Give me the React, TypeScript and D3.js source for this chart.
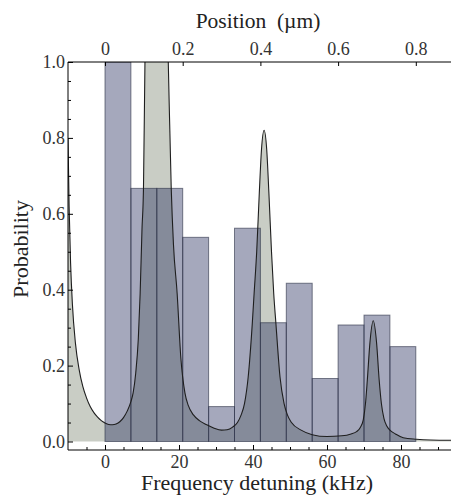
import React, { Component } from 'react'
import * as d3 from 'd3'

// histogram, 7 kHz bins starting at 0
const binStarts = [0, 7, 14, 21, 28, 35, 42, 49, 56, 63, 70, 77]
const binWidth = 7
const binProb = [1.0, 0.667, 0.667, 0.538, 0.092, 0.562, 0.313, 0.417, 0.166, 0.307, 0.333, 0.25]

// spectrum curve (kHz, probability)
const specKHz = [
  -10, -9.7, -9.3, -8.8, -8.0, -7.0, -6.0, -5.0, -4.0, -3.0, -2.0, -1.0, 0, 1, 2, 3, 4, 5, 6, 7,
  7.6, 8.3, 9.0, 9.5, 10.0, 10.4, 10.8, 11.5, 12.5, 14.0, 15.5, 16.5, 17.1, 17.9, 18.5, 19.5,
  20.5, 21.6, 22.5, 23.9, 25.5, 27.5, 29.5, 31.5, 33.0, 34.5, 35.8, 36.8, 37.7, 38.7, 39.8,
  40.3, 41.0, 41.7, 42.3, 43.0, 43.7, 44.3, 45.0, 45.6, 46.2, 47.3, 48.4, 49.3, 50.4, 53.0,
  56.0, 60.0, 64.0, 66.5, 68.0, 69.0, 69.8, 70.4, 70.9, 71.6, 72.5, 73.4, 74.1, 74.7, 75.4,
  76.2, 77.0, 78.5, 80.6, 84.2, 88.0, 95.0,
]
const specProb = [
  0.8, 0.62, 0.47, 0.36, 0.26, 0.19, 0.145, 0.115, 0.092, 0.076, 0.064, 0.055, 0.049, 0.045, 0.044, 0.046, 0.052, 0.063, 0.08, 0.105,
  0.128, 0.18, 0.27, 0.39, 0.56, 0.667, 1.0, 1.25, 1.4, 1.45, 1.4, 1.25, 1.0, 0.667, 0.52, 0.39,
  0.22, 0.128, 0.095, 0.07, 0.055, 0.044, 0.035, 0.03, 0.031, 0.038, 0.05, 0.07, 0.1, 0.17, 0.31,
  0.39, 0.5, 0.654, 0.77, 0.82, 0.77, 0.654, 0.5, 0.39, 0.31, 0.17, 0.1, 0.07, 0.05, 0.03,
  0.018, 0.013, 0.015, 0.02, 0.026, 0.037, 0.057, 0.1, 0.162, 0.26, 0.318, 0.26, 0.162, 0.1, 0.06,
  0.04, 0.03, 0.02, 0.01, 0.006, 0.004, 0.003,
]

const freqTicks = [0, 20, 40, 60, 80]
const freqMinor = [-5, 5, 10, 15, 25, 30, 35, 45, 50, 55, 65, 70, 75, 85, 90]
const posTicks = [0, 0.2, 0.4, 0.6, 0.8]
const posLabels = ['0', '0.2', '0.4', '0.6', '0.8']
const probTicks = [0, 0.2, 0.4, 0.6, 0.8, 1.0]
const probMinor = [0.05, 0.1, 0.15, 0.25, 0.3, 0.35, 0.45, 0.5, 0.55, 0.65, 0.7, 0.75, 0.85, 0.9, 0.95]

const W = 451
const H = 497
const FONT = 'Liberation Serif'

export default class App extends Component {
  node: SVGSVGElement | null = null

  componentDidMount() {
    this.createChart()
  }
  componentDidUpdate() {
    this.createChart()
  }

  createChart() {
    const svg = d3.select(this.node)
    svg.selectAll('*').remove()

    const left = 68, right = 456.5, top = 62, bottom = 450

    const x = d3.scaleLinear().domain([-10, 95]).range([left, right])
    const y = d3.scaleLinear().domain([-0.0224, 1]).range([bottom, top])
    // 1 um corresponds to 105 kHz
    const pos = d3.scaleLinear().domain([-10 / 105, 95 / 105]).range([left, right])

    svg.append('defs').append('clipPath').attr('id', 'plotclip')
      .append('rect')
      .attr('x', left).attr('y', top)
      .attr('width', right - left).attr('height', bottom - top)

    const plot = svg.append('g').attr('clip-path', 'url(#plotclip)')

    const spec: [number, number][] = specKHz.map((k, i) => [k, specProb[i]])

    const area = d3.area<[number, number]>()
      .x(d => x(d[0]))
      .y0(y(0))
      .y1(d => y(d[1]))
      .curve(d3.curveMonotoneX)

    const line = d3.line<[number, number]>()
      .x(d => x(d[0]))
      .y(d => y(d[1]))
      .curve(d3.curveMonotoneX)

    plot.append('path')
      .datum(spec)
      .attr('d', area)
      .attr('fill', '#c9cdc5')

    plot.append('g')
      .selectAll('rect')
      .data(binStarts)
      .enter()
      .append('rect')
      .attr('x', d => x(d))
      .attr('y', (d, i) => y(binProb[i]))
      .attr('width', d => x(d + binWidth) - x(d))
      .attr('height', (d, i) => y(0) - y(binProb[i]))
      .attr('fill', 'rgb(40,48,95)')
      .attr('fill-opacity', 0.42)
      .attr('stroke', '#2a2e44')
      .attr('stroke-opacity', 0.6)
      .attr('stroke-width', 1)

    plot.append('path')
      .datum(spec)
      .attr('d', line)
      .attr('fill', 'none')
      .attr('stroke', '#1e1e1e')
      .attr('stroke-width', 1.1)

    // frame
    const frame = svg.append('g').attr('stroke', '#000').attr('stroke-width', 1)
    frame.append('line').attr('x1', left).attr('x2', left).attr('y1', top).attr('y2', bottom)
    frame.append('line').attr('x1', left).attr('x2', right).attr('y1', top).attr('y2', top)
    frame.append('line').attr('x1', left).attr('x2', right).attr('y1', bottom).attr('y2', bottom)
    frame.append('line').attr('x1', right).attr('x2', right).attr('y1', top).attr('y2', bottom)

    const style = (g: any) => {
      g.select('.domain').remove()
      g.selectAll('line').attr('stroke', '#000')
      g.selectAll('text').attr('font-family', FONT).attr('font-size', 18).attr('fill', '#333')
    }

    // bottom axis
    svg.append('g')
      .attr('transform', 'translate(0,' + bottom + ')')
      .call(d3.axisBottom(x).tickValues(freqTicks).tickSizeInner(-5).tickSizeOuter(0).tickPadding(5).tickFormat(d3.format('d')))
      .call(style)
    svg.append('g')
      .attr('transform', 'translate(0,' + bottom + ')')
      .call(d3.axisBottom(x).tickValues(freqMinor).tickSizeInner(-3).tickSizeOuter(0).tickFormat(() => ''))
      .call(style)

    // top axis
    svg.append('g')
      .attr('transform', 'translate(0,' + top + ')')
      .call(d3.axisTop(pos).tickValues(posTicks).tickSizeInner(-4).tickSizeOuter(0).tickPadding(7)
        .tickFormat((d, i) => posLabels[i]))
      .call(style)

    // left axis
    svg.append('g')
      .attr('transform', 'translate(' + left + ',0)')
      .call(d3.axisLeft(y).tickValues(probTicks).tickSizeInner(-5).tickSizeOuter(0).tickPadding(3).tickFormat(d3.format('.1f')))
      .call(style)
    svg.append('g')
      .attr('transform', 'translate(' + left + ',0)')
      .call(d3.axisLeft(y).tickValues(probMinor).tickSizeInner(-3).tickSizeOuter(0).tickFormat(() => ''))
      .call(style)

    // titles
    svg.append('text')
      .attr('x', 258).attr('y', 28)
      .attr('text-anchor', 'middle')
      .attr('font-family', FONT).attr('font-size', 21.5).attr('fill', '#222')
      .style('white-space', 'pre')
      .text('Position  (\u00b5m)')

    svg.append('text')
      .attr('x', 257).attr('y', 490)
      .attr('text-anchor', 'middle')
      .attr('font-family', FONT).attr('font-size', 22).attr('fill', '#222')
      .text('Frequency detuning (kHz)')

    svg.append('text')
      .attr('transform', 'translate(28,249) rotate(-90)')
      .attr('text-anchor', 'middle')
      .attr('font-family', FONT).attr('font-size', 22).attr('fill', '#222')
      .text('Probability')
  }

  render() {
    return (
      <svg
        ref={node => { this.node = node }}
        width={W}
        height={H}
        style={{ position: 'absolute', left: 0, top: 0, background: '#fff' }}
      />
    )
  }
}
